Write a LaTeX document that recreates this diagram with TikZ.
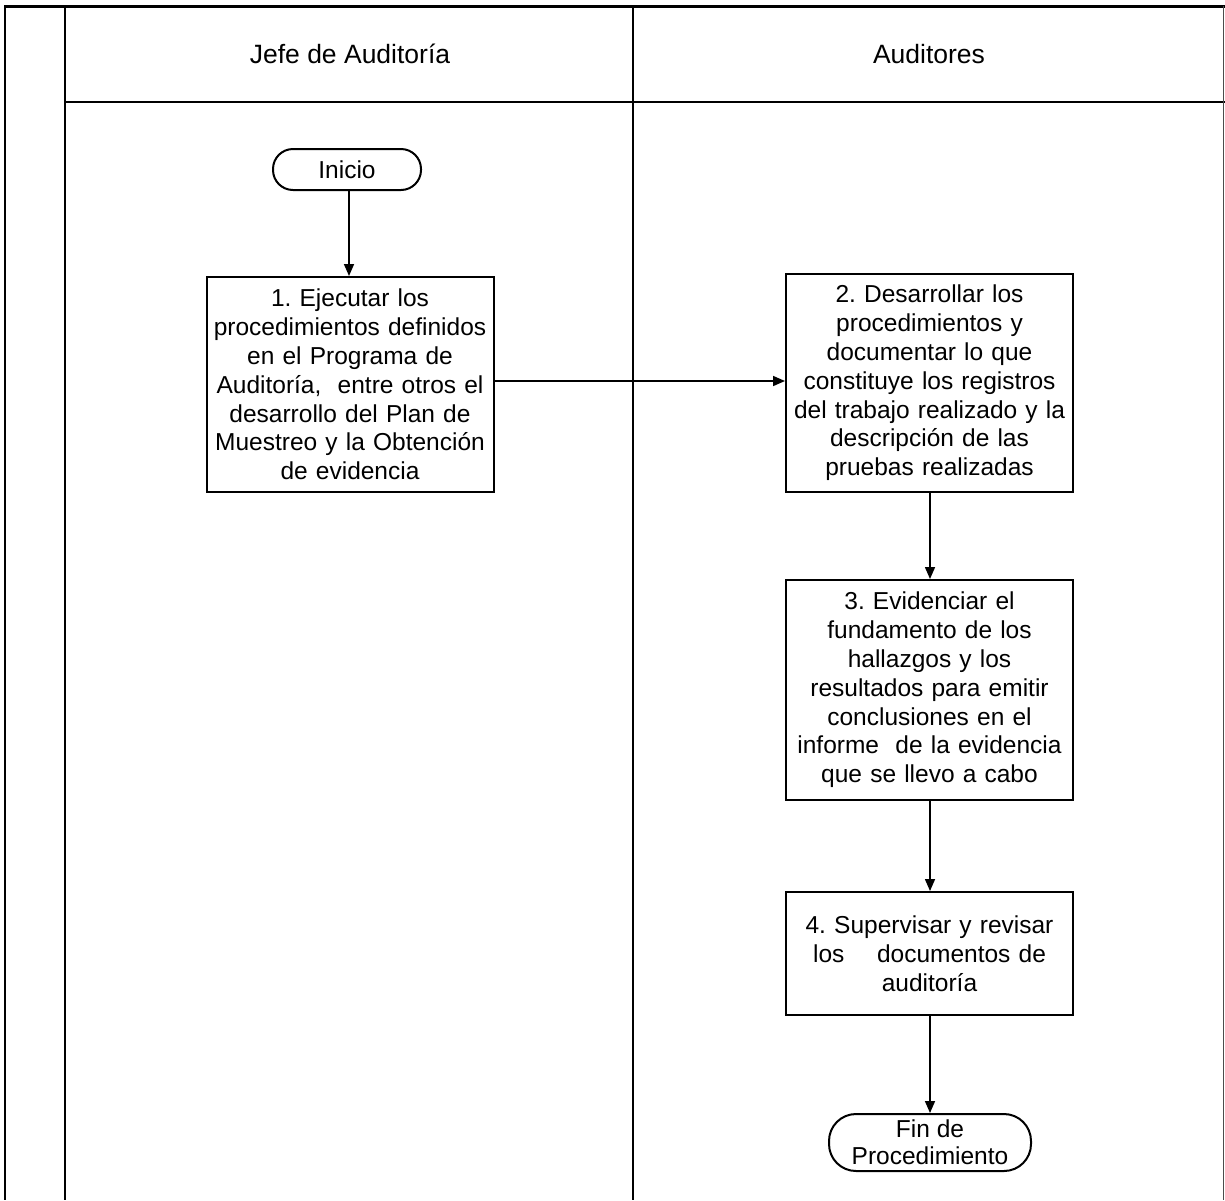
\documentclass[tikz,border=0pt]{standalone}
\usepackage{fontspec}
\setmainfont{Liberation Sans}
\usetikzlibrary{arrows.meta}
\begin{document}
\frenchspacing
\begin{tikzpicture}[x=1pt,y=-1pt,
  txt/.style={font=\fontsize{24.5}{28.8}\selectfont},
  stepbox/.style={txt,draw,line width=2pt,align=center,inner sep=0pt,
    text width=284pt,minimum width=287pt},
  term/.style={txt,draw,line width=2pt,align=center,inner sep=0pt},
  frame/.style={line width=2.4pt},
  flow/.style={line width=1.6pt,-{Triangle[length=12pt,width=10pt]}}
]
\useasboundingbox[fill=white] (0,0) rectangle (1225,1200);

% swimlane frame
\draw[frame,line width=3pt] (4,6) -- (1225,6);
\draw[frame] (5,6) -- (5,1200);
\draw[frame] (65,6) -- (65,1200);
\draw[frame] (633,6) -- (633,1200);
\draw[frame,line width=2pt] (65,102) -- (1225,102);
\draw[line width=1pt,black!70] (1223,6) -- (1223,1200);

% lane headers
\node[txt,font=\fontsize{26.5}{30}\selectfont] (h1) at (350,54) {Jefe de Auditoría};
\node[txt,font=\fontsize{26.5}{30}\selectfont] (h2) at (929,54) {Auditores};

% terminals
\node[term,minimum width=148pt,minimum height=41pt,rounded corners=20pt] (ini) at (347,169.5) {Inicio};
\node[term,minimum width=202pt,minimum height=57pt,rounded corners=27pt,
  font=\fontsize{24.5}{27}\selectfont] (fin) at (930,1142.5) {Fin de\\Procedimiento};

% process steps
\node[stepbox,minimum height=215pt] (s1) at (350,384.5)
  {1. Ejecutar los\\procedimientos definidos\\en el Programa de\\Auditoría,\ \ entre otros el\\desarrollo del Plan de\\Muestreo y la Obtención\\de evidencia};
\node[stepbox,minimum height=218pt] (s2) at (929.5,383)
  {2. Desarrollar los\\procedimientos y\\documentar lo que\\constituye los registros\\del trabajo realizado y la\\descripción de las\\pruebas realizadas};
\node[stepbox,minimum height=220pt] (s3) at (929.5,690)
  {3. Evidenciar el\\fundamento de los\\hallazgos y los\\resultados para emitir\\conclusiones en el\\informe\ \ de la evidencia\\que se llevo a cabo};
\node[stepbox,minimum height=123pt] (s4) at (929.5,953.5)
  {4. Supervisar y revisar\\los\ \ \ \ documentos de\\auditoría};

% connectors
\draw[flow] (ini.south -| 349,0) -- (s1.north -| 349,0);
\draw[flow] (s1.east |- 0,381) -- (s2.west |- 0,381);
\draw[flow] (s2.south -| 930,0) -- (s3.north -| 930,0);
\draw[flow] (s3.south -| 930,0) -- (s4.north -| 930,0);
\draw[flow] (s4.south -| 930,0) -- (fin.north -| 930,0);
\end{tikzpicture}
\end{document}
